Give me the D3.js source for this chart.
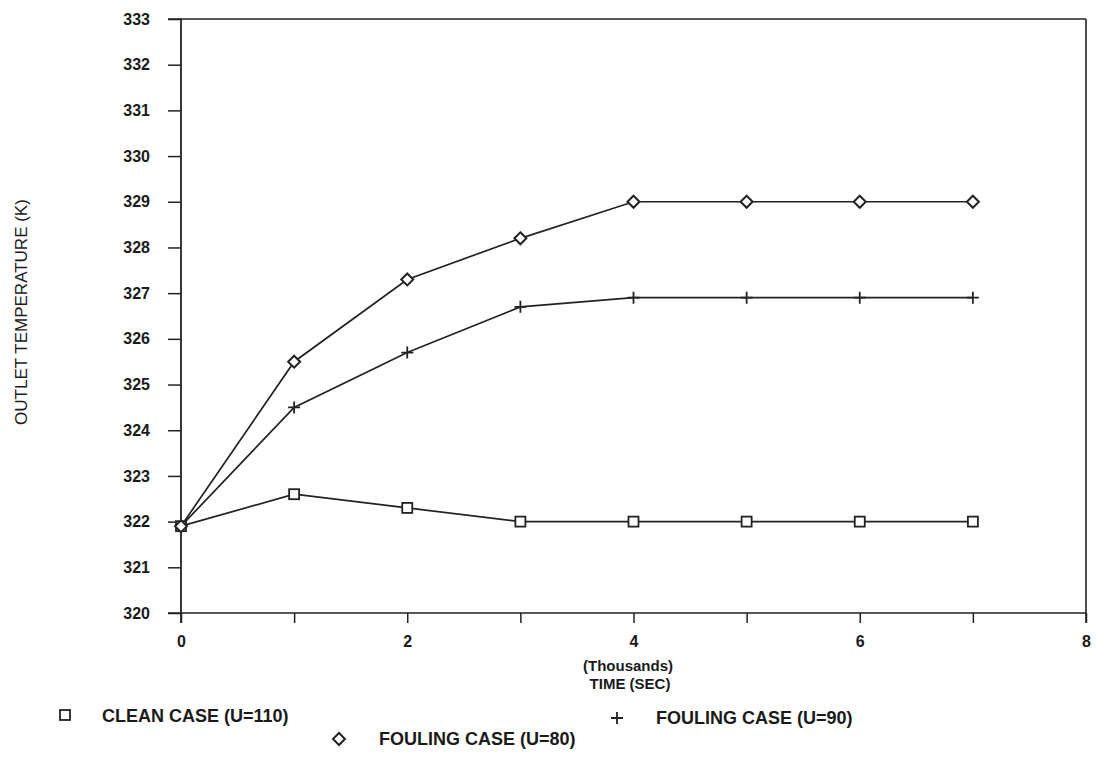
<!DOCTYPE html>
<html>
<head>
<meta charset="utf-8">
<script src="https://cdn.jsdelivr.net/npm/d3@7"></script>
<style>
  html, body { margin: 0; padding: 0; background: #fff; }
  svg { display: block; font-family: "Liberation Sans", Arial, Helvetica, sans-serif; }
</style>
</head>
<body>
<svg id="chart" width="1097" height="757"></svg>
<script>
// Time in thousands of seconds
const timeK = [0, 1, 2, 3, 4, 5, 6, 7];
// Outlet temperature (K) for each case
const cleanU110 = [321.9, 322.6, 322.3, 322.0, 322.0, 322.0, 322.0, 322.0];
const foulingU90 = [321.9, 324.5, 325.7, 326.7, 326.9, 326.9, 326.9, 326.9];
const foulingU80 = [321.9, 325.5, 327.3, 328.2, 329.0, 329.0, 329.0, 329.0];

const xTicks = [0, 1, 2, 3, 4, 5, 6, 7, 8];
const xTickLabels = ["0", "", "2", "", "4", "", "6", "", "8"];
const yTicks = [320, 321, 322, 323, 324, 325, 326, 327, 328, 329, 330, 331, 332, 333];

const seriesNames = ["CLEAN CASE (U=110)", "FOULING CASE (U=90)", "FOULING CASE (U=80)"];

const svg = d3.select("#chart");
const ink = "#222";

const x = d3.scaleLinear().domain([0, 8]).range([181, 1086]);
const y = d3.scaleLinear().domain([320, 333]).range([613, 19]);

// frame: top and right edges
svg.append("line").attr("x1", 168).attr("x2", x(8)).attr("y1", y(333)).attr("y2", y(333))
  .attr("stroke", ink).attr("stroke-width", 1.6);
svg.append("line").attr("x1", x(8)).attr("x2", x(8)).attr("y1", y(333)).attr("y2", 623)
  .attr("stroke", ink).attr("stroke-width", 1.6);

// y axis
const yAxis = d3.axisLeft(y).tickValues(yTicks).tickSize(13).tickPadding(18).tickFormat(d3.format("d"));
const gy = svg.append("g").attr("transform", `translate(${x(0)},0)`).call(yAxis);
gy.select(".domain").attr("d", `M0,${y(333)}V623`).attr("stroke", ink).attr("stroke-width", 1.8);
gy.selectAll(".tick line").attr("stroke", ink).attr("stroke-width", 1.5);
gy.selectAll(".tick text").attr("fill", "#1a1a1a").style("font-size", "16px").style("font-weight", "bold");

// x axis
const xAxis = d3.axisBottom(x).tickValues(xTicks).tickSize(10).tickPadding(13)
  .tickFormat((d, i) => xTickLabels[i]);
const gx = svg.append("g").attr("transform", `translate(0,${y(320)})`).call(xAxis);
gx.select(".domain").attr("d", `M168,0H${x(8)}`).attr("stroke", ink).attr("stroke-width", 1.6);
gx.selectAll(".tick line").attr("stroke", ink).attr("stroke-width", 1.5);
gx.selectAll(".tick text").attr("fill", "#1a1a1a").style("font-size", "16px").style("font-weight", "bold");

// axis titles
svg.append("text").attr("x", 628).attr("y", 671).attr("text-anchor", "middle")
  .style("font-size", "15px").style("font-weight", "bold").attr("fill", "#1a1a1a").text("(Thousands)");
svg.append("text").attr("x", 630).attr("y", 689).attr("text-anchor", "middle")
  .style("font-size", "15px").style("font-weight", "bold").attr("fill", "#1a1a1a").text("TIME (SEC)");
svg.append("text").attr("transform", "translate(27,312) rotate(-90)").attr("text-anchor", "middle")
  .style("font-size", "17px").attr("fill", "#1a1a1a").text("OUTLET TEMPERATURE (K)");

// markers
function drawMarker(g, kind, cx, cy) {
  if (kind === "square") {
    g.append("rect").attr("x", cx - 5).attr("y", cy - 5).attr("width", 10).attr("height", 10)
      .attr("fill", "#fff").attr("stroke", ink).attr("stroke-width", 1.8);
  } else if (kind === "diamond") {
    g.append("path").attr("d", `M${cx},${cy - 6}L${cx + 6},${cy}L${cx},${cy + 6}L${cx - 6},${cy}Z`)
      .attr("fill", "#fff").attr("stroke", ink).attr("stroke-width", 2);
  } else {
    g.append("path").attr("d", `M${cx - 6},${cy}H${cx + 6}M${cx},${cy - 6}V${cy + 6}`)
      .attr("fill", "none").attr("stroke", ink).attr("stroke-width", 1.8);
  }
}

const series = [
  { vals: cleanU110, kind: "square" },
  { vals: foulingU90, kind: "plus" },
  { vals: foulingU80, kind: "diamond" }
];

const line = d3.line().x((d, i) => x(timeK[i])).y(d => y(d));

series.forEach(s => {
  svg.append("path").datum(s.vals).attr("d", line)
    .attr("fill", "none").attr("stroke", ink).attr("stroke-width", 1.7);
});
series.forEach(s => {
  const g = svg.append("g");
  s.vals.forEach((v, i) => drawMarker(g, s.kind, x(timeK[i]), y(v)));
});

// legend
const legend = [
  { kind: "square", mx: 65, my: 715, tx: 102, ty: 722, label: seriesNames[0] },
  { kind: "plus", mx: 617, my: 718, tx: 656, ty: 724, label: seriesNames[1] },
  { kind: "diamond", mx: 339, my: 739, tx: 379, ty: 745, label: seriesNames[2] }
];
const lg = svg.append("g");
legend.forEach(l => {
  drawMarker(lg, l.kind, l.mx, l.my);
  lg.append("text").attr("x", l.tx).attr("y", l.ty)
    .style("font-size", "18px").style("font-weight", "bold").attr("fill", "#1a1a1a").text(l.label);
});
</script>
</body>
</html>
